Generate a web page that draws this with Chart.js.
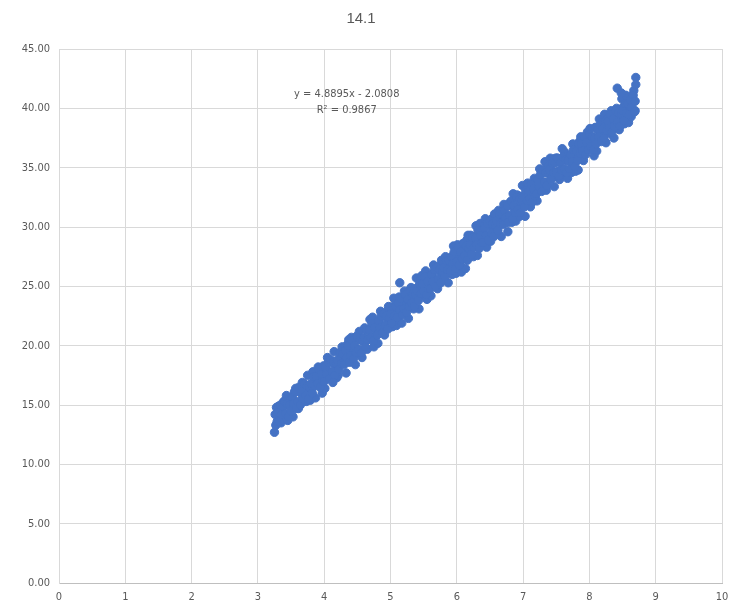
<!DOCTYPE html>
<html>
<head>
<meta charset="utf-8">
<script src="https://cdn.jsdelivr.net/npm/chart.js@4.4.0/dist/chart.umd.min.js"></script>
<style>
  html, body { margin: 0; padding: 0; background: #ffffff; }
  #wrap { width: 738px; height: 612px; position: relative; }
</style>
</head>
<body>
<div id="wrap"><canvas id="c" width="738" height="612"></canvas></div>
<script>
const chartTitle = "14.1";
const equationLines = ["y = 4.8895x - 2.0808", "R\u00b2 = 0.9867"];
const xTickValues = [0, 1, 2, 3, 4, 5, 6, 7, 8, 9, 10];
const yTickValues = [0, 5, 10, 15, 20, 25, 30, 35, 40, 45];

const xValuesA = [
  3.25,3.26,3.27,3.28,3.29, 3.31,3.33,3.35,3.37,3.39, 3.41,3.43,3.45,3.47,3.49,
  3.51,3.53,3.55,3.57,3.59, 3.61,3.63,3.65,3.67,3.69, 3.71,3.73,3.75,3.77,3.79,
  3.81,3.83,3.85,3.87,3.89, 3.91,3.93,3.95,3.97,3.99, 4.01,4.03,4.05,4.07,4.09,
  4.11,4.13,4.15,4.17,4.19, 4.21,4.23,4.25,4.27,4.29, 4.31,4.33,4.35,4.37,4.39,
  4.41,4.43,4.45,4.47,4.49, 4.51,4.53,4.55,4.57,4.59, 4.61,4.63,4.65,4.67,4.69,
  4.71,4.73,4.75,4.77,4.79, 4.81,4.83,4.85,4.87,4.89, 4.91,4.93,4.95,4.97,4.99,
  5.01,5.03,5.05,5.07,5.09, 5.11,5.13,5.15,5.17,5.19, 5.21,5.23,5.25,5.27,5.29,
  5.31,5.33,5.35,5.37,5.39, 5.41,5.43,5.45,5.47,5.49, 5.51,5.53,5.55,5.57,5.59,
  5.61,5.63,5.65,5.67,5.69, 5.71,5.73,5.75,5.77,5.79, 5.81,5.83,5.85,5.87,5.89,
  5.91,5.93,5.95,5.97,5.99, 6.01,6.03,6.05,6.07,6.09, 6.11,6.13,6.15,6.17,6.19,
  6.21,6.23,6.25,6.27,6.29, 6.31,6.33,6.35,6.37,6.39, 6.41,6.43,6.45,6.47,6.49,
  6.51,6.53,6.55,6.57,6.59, 6.61,6.63,6.65,6.67,6.69, 6.71,6.73,6.75,6.77,6.79,
  6.81,6.83,6.85,6.87,6.89, 6.91,6.93,6.95,6.97,6.99, 7.01,7.03,7.05,7.07,7.09,
  7.11,7.13,7.15,7.17,7.19, 7.21,7.23,7.25,7.27,7.29, 7.31,7.33,7.35,7.37,7.39,
  7.41,7.43,7.45,7.47,7.49, 7.51,7.53,7.55,7.57,7.59, 7.61,7.63,7.65,7.67,7.69,
  7.71,7.73,7.75,7.77,7.79, 7.81,7.83,7.85,7.87,7.89, 7.91,7.93,7.95,7.97,7.99,
  8.01,8.03,8.05,8.07,8.09, 8.11,8.13,8.15,8.17,8.19, 8.21,8.23,8.25,8.27,8.29,
  8.31,8.33,8.35,8.37,8.39, 8.41,8.43,8.45,8.47,8.49, 8.51,8.53,8.55,8.57,8.59,
  8.61,8.63,8.65,8.67,8.69
];
const yValuesA = [
  12.7,14.2,13.3,14.8,13.6, 14.9,14.0,13.5,14.9,15.3, 14.2,15.8,13.7,15.5,15.4,
  15.3,14.0,16.1,16.4,14.9, 14.7,16.4,16.0,16.9,15.8, 16.7,15.3,17.5,16.4,15.4,
  15.9,17.8,17.0,15.6,17.0, 18.2,17.2,16.7,16.0,18.3, 16.4,18.1,19.0,17.5,18.7,
  18.6,17.2,19.5,18.3,17.3, 17.5,19.4,18.9,19.9,18.7, 19.2,17.7,20.1,20.5,18.8,
  20.7,19.7,19.2,18.4,20.8, 19.3,21.2,20.5,19.0,20.5, 21.5,20.4,19.7,21.4,22.2,
  20.6,22.4,19.9,21.9,21.7, 20.2,22.0,22.9,21.4,22.6, 20.9,22.8,22.3,23.3,22.1,
  23.0,21.6,24.0,22.7,21.7, 22.2,24.1,23.4,21.9,23.4, 24.6,23.6,23.1,22.3,24.7,
  24.9,23.8,23.1,24.8,25.7, 24.6,23.1,25.5,25.9,24.2, 24.5,26.3,23.9,25.9,25.7,
  24.2,26.0,26.8,25.3,26.5, 24.8,26.7,26.2,27.2,26.0, 25.6,27.5,26.8,25.3,26.8,
  27.4,26.0,28.4,27.1,26.1, 28.5,27.5,27.0,26.2,28.6, 28.0,26.5,28.9,29.3,27.6,
  29.3,28.2,27.5,29.2,30.1, 27.6,29.4,30.3,28.8,30.0, 28.9,30.7,28.3,30.3,30.1,
  28.8,30.7,30.1,31.1,29.9, 29.5,31.4,30.7,29.2,30.7, 31.9,30.9,30.4,29.6,32.0,
  31.8,30.4,32.8,31.5,30.5, 32.7,31.6,30.9,32.6,33.5, 32.4,30.9,33.3,33.7,32.0,
  31.7,33.6,33.1,34.1,32.9, 32.2,34.0,34.9,33.4,34.6, 33.7,35.5,33.1,35.1,34.9,
  35.8,34.8,34.2,33.4,35.8, 35.8,34.7,34.0,35.7,36.6, 34.4,36.3,35.6,34.1,35.6,
  36.0,34.6,37.0,35.7,34.7, 36.3,34.8,37.2,37.6,35.9, 35.6,37.5,37.0,38.0,36.8,
  38.3,37.3,36.8,36.0,38.4, 36.4,38.2,39.1,37.6,38.8, 37.7,39.5,37.1,39.1,38.9,
  37.9,39.8,39.0,37.5,39.0, 40.0,38.9,38.2,39.9,40.8, 40.1,38.7,41.1,39.8,38.8,
  40.2,39.3,41.1,41.5,39.8
];

// observations, second group
const xValuesB = [
  3.30,3.32,3.34,3.36,3.38, 3.40,3.42,3.44,3.46,3.48, 3.50,3.52,3.54,3.56,3.58,
  3.60,3.62,3.64,3.66,3.68, 3.70,3.72,3.74,3.76,3.78, 3.80,3.82,3.84,3.86,3.88,
  3.90,3.92,3.94,3.96,3.98, 4.00,4.02,4.04,4.06,4.08, 4.10,4.12,4.14,4.16,4.18,
  4.20,4.22,4.24,4.26,4.28, 4.30,4.32,4.34,4.36,4.38, 4.40,4.42,4.44,4.46,4.48,
  4.50,4.52,4.54,4.56,4.58, 4.60,4.62,4.64,4.66,4.68, 4.70,4.72,4.74,4.76,4.78,
  4.80,4.82,4.84,4.86,4.88, 4.90,4.92,4.94,4.96,4.98, 5.00,5.02,5.04,5.06,5.08,
  5.10,5.12,5.14,5.16,5.18, 5.20,5.22,5.24,5.26,5.28, 5.30,5.32,5.34,5.36,5.38,
  5.40,5.42,5.44,5.46,5.48, 5.50,5.52,5.54,5.56,5.58, 5.60,5.62,5.64,5.66,5.68,
  5.70,5.72,5.74,5.76,5.78, 5.80,5.82,5.84,5.86,5.88, 5.90,5.92,5.94,5.96,5.98,
  6.00,6.02,6.04,6.06,6.08, 6.10,6.12,6.14,6.16,6.18, 6.20,6.22,6.24,6.26,6.28,
  6.30,6.32,6.34,6.36,6.38, 6.40,6.42,6.44,6.46,6.48, 6.50,6.52,6.54,6.56,6.58,
  6.60,6.62,6.64,6.66,6.68, 6.70,6.72,6.74,6.76,6.78, 6.80,6.82,6.84,6.86,6.88,
  6.90,6.92,6.94,6.96,6.98, 7.00,7.02,7.04,7.06,7.08, 7.10,7.12,7.14,7.16,7.18,
  7.20,7.22,7.24,7.26,7.28, 7.30,7.32,7.34,7.36,7.38, 7.40,7.42,7.44,7.46,7.48,
  7.50,7.52,7.54,7.56,7.58, 7.60,7.62,7.64,7.66,7.68, 7.70,7.72,7.74,7.76,7.78,
  7.80,7.82,7.84,7.86,7.88, 7.90,7.92,7.94,7.96,7.98, 8.00,8.02,8.04,8.06,8.08,
  8.10,8.12,8.14,8.16,8.18, 8.20,8.22,8.24,8.26,8.28, 8.30,8.32,8.34,8.36,8.38,
  8.40,8.42,8.44,8.46,8.48, 8.50,8.52,8.54,8.56,8.58, 8.60,8.62,8.64,8.66,8.68
];
const yValuesB = [
  14.4,13.6,15.0,14.2,14.9, 15.3,14.3,15.1,14.0,15.0, 14.5,15.7,15.1,16.1,14.7,
  15.3,16.5,15.0,16.1,15.5, 16.8,15.8,16.6,15.5,16.5, 16.8,16.0,17.4,16.6,17.4,
  16.8,18.0,16.5,17.6,17.0, 17.0,18.2,17.6,18.6,17.2, 18.8,17.8,18.6,17.5,18.5,
  18.8,18.0,19.4,18.5,19.3, 18.4,19.6,19.0,20.0,18.6, 19.2,20.4,18.9,20.0,19.4,
  20.7,19.7,20.5,19.4,20.4, 20.7,19.9,21.3,20.5,21.3, 20.7,21.9,20.4,21.5,20.9,
  20.9,22.1,21.5,22.5,21.1, 22.7,21.7,22.5,21.4,22.4, 22.7,21.9,23.3,22.5,23.3,
  22.4,23.6,23.0,24.0,22.6, 23.1,24.3,22.8,23.9,23.3, 24.6,23.6,24.4,23.3,24.3,
  24.6,23.8,25.2,24.4,25.2, 24.6,25.8,24.3,25.4,24.8, 24.8,26.0,25.4,26.4,25.0,
  26.6,25.6,26.4,25.3,26.3, 26.6,25.8,27.2,26.4,27.2, 26.3,27.5,26.9,27.9,26.5,
  27.1,28.3,26.8,27.9,27.3, 28.6,27.6,28.4,27.2,28.2, 28.5,27.7,29.1,28.3,29.1,
  28.5,29.7,28.2,29.3,28.7, 28.7,29.9,29.3,30.3,28.9, 30.5,29.5,30.3,29.2,30.2,
  30.5,29.7,31.1,30.3,31.1, 30.2,31.4,30.8,31.8,30.4, 31.0,32.2,30.7,31.8,31.2,
  32.5,31.5,32.3,31.2,32.2, 32.5,31.7,33.1,32.2,33.0, 32.4,33.6,32.1,33.2,32.6,
  32.8,34.0,33.4,34.4,33.0, 34.8,33.8,34.6,33.5,34.5, 34.8,34.0,35.4,34.6,35.4,
  34.6,35.8,34.3,35.4,34.8, 35.9,34.9,35.7,34.6,35.6, 34.9,36.1,35.5,36.5,35.1,
  36.4,35.6,37.0,36.2,37.0, 36.4,37.6,36.1,37.1,36.5, 37.8,36.8,37.6,36.5,37.5,
  37.0,38.2,37.6,38.6,37.2, 38.3,37.5,38.9,38.1,38.9, 38.3,39.5,38.0,39.1,38.5,
  39.8,38.8,39.6,38.5,39.5, 39.8,39.0,40.4,39.6,40.4, 39.5,40.7,40.1,41.1,39.7
];

// isolated points at the edges of the cloud
const xValuesC = [8.70, 8.70, 8.69, 8.42, 4.13, 5.14, 8.48];
const yValuesC = [42.6, 42.0, 40.6, 41.7, 16.9, 25.3, 41.3];

const xValues = xValuesA.concat(xValuesB, xValuesC);
const yValues = yValuesA.concat(yValuesB, yValuesC);
const points = xValues.map((x, i) => ({ x: x, y: yValues[i] }));

const textColor = "#595959";
const fontFamily = "'Liberation Sans Narrow', 'DejaVu Sans Condensed', 'Liberation Sans', sans-serif";

const equationPlugin = {
  id: "equationText",
  afterDatasetsDraw(chart) {
    const ctx = chart.ctx;
    const area = chart.chartArea;
    const cx = area.left + (area.right - area.left) * 0.434;
    ctx.save();
    ctx.fillStyle = textColor;
    ctx.font = "11px " + fontFamily;
    ctx.textAlign = "center";
    ctx.textBaseline = "middle";
    ctx.fillText(equationLines[0], cx, area.top + 45);
    ctx.fillText(equationLines[1], cx, area.top + 61);
    ctx.restore();
  }
};

new Chart(document.getElementById("c"), {
  type: "scatter",
  data: {
    datasets: [{
      data: points,
      backgroundColor: "#4472C4",
      borderColor: "#4472C4",
      borderWidth: 1,
      pointRadius: 4.2,
      pointHoverRadius: 4.2
    }]
  },
  options: {
    responsive: false,
    animation: false,
    layout: { padding: { left: 0, right: 16, top: 0, bottom: 0 } },
    plugins: {
      legend: { display: false },
      tooltip: { enabled: false },
      title: {
        display: true,
        text: chartTitle,
        color: textColor,
        font: { family: "'Liberation Sans', sans-serif", size: 15, weight: "normal" },
        padding: { top: 10, bottom: 21 }
      }
    },
    scales: {
      x: {
        type: "linear",
        min: 0, max: 10,
        afterBuildTicks(scale) { scale.ticks = xTickValues.map(v => ({ value: v })); },
        afterFit(scale) { scale.height = 29; },
        grid: { color: "#d9d9d9", drawTicks: false, lineWidth: 1 },
        border: { color: "#bfbfbf" },
        ticks: {
          color: textColor,
          padding: 8,
          font: { family: fontFamily, size: 11 },
          callback: v => String(v)
        }
      },
      y: {
        type: "linear",
        min: 0, max: 45,
        afterBuildTicks(scale) { scale.ticks = yTickValues.map(v => ({ value: v })); },
        afterFit(scale) { scale.width = 59; },
        grid: { color: "#d9d9d9", drawTicks: false, lineWidth: 1 },
        border: { color: "#d9d9d9" },
        ticks: {
          color: textColor,
          padding: 9,
          font: { family: fontFamily, size: 11 },
          callback: v => Number(v).toFixed(2)
        }
      }
    }
  },
  plugins: [equationPlugin]
});
</script>
</body>
</html>
